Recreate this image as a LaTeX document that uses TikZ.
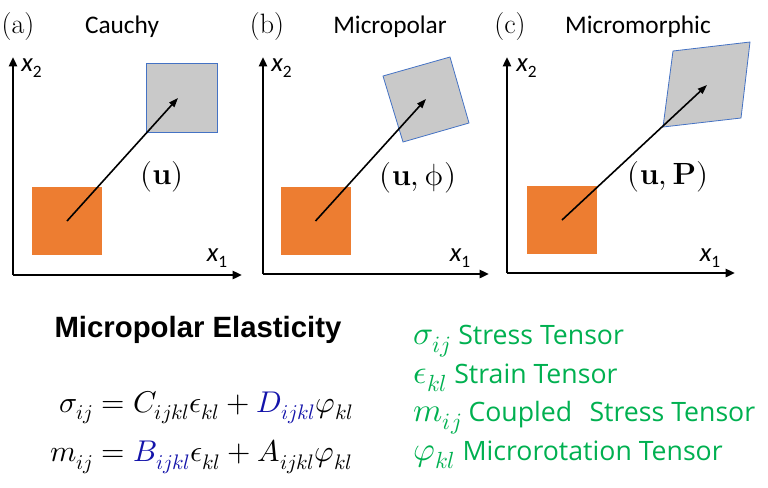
\documentclass[tikz,border=0pt]{standalone}
\usepackage{amsmath}
\usepackage{fontspec}
\usepackage{unicode-math}
\setmathfont{Latin Modern Math}
\newfontfamily\panelfont{Carlito}
\newfontfamily\headfont{Liberation Sans}
\newfontfamily\listfont{Open Sans}
\usetikzlibrary{arrows.meta, positioning}
\definecolor{RefOrange}{RGB}{237,125,49}
\definecolor{CurGray}{RGB}{201,201,201}
\definecolor{EdgeBlue}{RGB}{68,114,196}
\definecolor{CoefBlue}{RGB}{20,20,170}
\definecolor{TermGreen}{RGB}{0,176,80}
\newcommand{\lsym}[1]{{\fontsize{25}{29}\selectfont$#1$}}

\begin{document}
\begin{tikzpicture}[x=0.75pt, y=-0.75pt,
    axis/.style={line width=2pt, -{Triangle[length=7pt, width=6pt]}},
    disp/.style={line width=1.2pt, -{Triangle[length=7pt, width=5pt]}},
    refbox/.style={fill=RefOrange, draw=none, inner sep=0pt, minimum width=52.5pt, minimum height=51pt},
    curbox/.style={fill=CurGray, draw=EdgeBlue, line width=0.6pt},
    tag/.style={font=\fontsize{21}{21}\selectfont},
    title/.style={font=\panelfont\fontsize{19}{19}\selectfont},
    dof/.style={font=\fontsize{23}{23}\selectfont},
    axlabel/.style={font=\panelfont\fontsize{20}{20}\selectfont\itshape, inner sep=0pt}]

\useasboundingbox (0,0) rectangle (768,487);

% --- (a) Cauchy ---
\node[tag] (taga) at (18,27) {(a)};
\node[title] (titlea) at (122,27) {Cauchy};
\coordinate (oa) at (13,275);
\coordinate (ya) at (13,57);
\coordinate (xa) at (242,275);
\draw[axis] (oa) -- (ya);
\draw[axis] (oa) -- (xa);
\node[axlabel, anchor=west] (x2a) at (21,68) {x\raisebox{-.45ex}{\upshape\fontsize{13}{13}\selectfont 2}};
\node[axlabel] (x1a) at (217,258) {x\raisebox{-.45ex}{\upshape\fontsize{13}{13}\selectfont 1}};
\node[refbox] (refa) at (67,221) {};
\fill[curbox] (146,63) rectangle (217,132);
\coordinate (enda) at (178,98);
\draw[disp] (refa.center) -- (enda);
\node[dof] (dofa) at (162,177) {$(\mathbf{u})$};

% --- (b) Micropolar ---
\node[tag] (tagb) at (267,27) {(b)};
\node[title] (titleb) at (390,27) {Micropolar};
\coordinate (ob) at (263,274);
\coordinate (yb) at (263,57);
\coordinate (xb) at (489,274);
\draw[axis] (ob) -- (yb);
\draw[axis] (ob) -- (xb);
\node[axlabel, anchor=west] (x2b) at (271,68) {x\raisebox{-.45ex}{\upshape\fontsize{13}{13}\selectfont 2}};
\node[axlabel] (x1b) at (460,258) {x\raisebox{-.45ex}{\upshape\fontsize{13}{13}\selectfont 1}};
\node[refbox] (refb) at (315.5,221) {};
\filldraw[curbox] (383,76) -- (450,57) -- (469,123) -- (403,142) -- cycle;
\coordinate (endb) at (426,99);
\draw[disp] (refb.center) -- (endb);
\node[dof] (dofb) at (418,178) {$(\mathbf{u},\upphi)$};

% --- (c) Micromorphic ---
\node[tag] (tagc) at (510,27) {(c)};
\node[title] (titlec) at (638,27) {Micromorphic};
\coordinate (oc) at (507,273);
\coordinate (yc) at (507,57);
\coordinate (xc) at (735,273);
\draw[axis] (oc) -- (yc);
\draw[axis] (oc) -- (xc);
\node[axlabel, anchor=west] (x2c) at (516,68) {x\raisebox{-.45ex}{\upshape\fontsize{13}{13}\selectfont 2}};
\node[axlabel] (x1c) at (710,258) {x\raisebox{-.45ex}{\upshape\fontsize{13}{13}\selectfont 1}};
\node[refbox] (refc) at (562,220) {};
\filldraw[curbox] (673,51) -- (750,42) -- (741,118) -- (663,127) -- cycle;
\coordinate (endc) at (707,85);
\draw[disp] (refc.center) -- (endc);
\node[dof] (dofc) at (668,177) {$(\mathbf{u},\mathbf{P})$};

% --- constitutive law ---
\node[font=\headfont\bfseries\fontsize{22}{22}\selectfont] (head) at (198,330) {Micropolar Elasticity};
\node[anchor=east, font=\fontsize{22.5}{30}\selectfont] (law) at (358,429)
    {\setlength{\jot}{7pt}$\begin{aligned}
      \sigma_{ij} &= C_{ijkl}\epsilon_{kl} + \textcolor{CoefBlue}{D_{ijkl}}\varphi_{kl}\\
      m_{ij} &= \textcolor{CoefBlue}{B_{ijkl}}\epsilon_{kl} + A_{ijkl}\varphi_{kl}
    \end{aligned}$};

% --- legend ---
\node[anchor=west, align=left, text=TermGreen, font=\listfont\fontsize{20}{29}\selectfont] (terms) at (409,397)
    {\lsym{\sigma_{ij}} Stress Tensor\\
     \lsym{\epsilon_{kl}} Strain Tensor\\
     \lsym{m_{ij}} Coupled\hspace{0.65em}Stress Tensor\\
     \lsym{\varphi_{kl}} Microrotation Tensor};

\end{tikzpicture}
\end{document}
